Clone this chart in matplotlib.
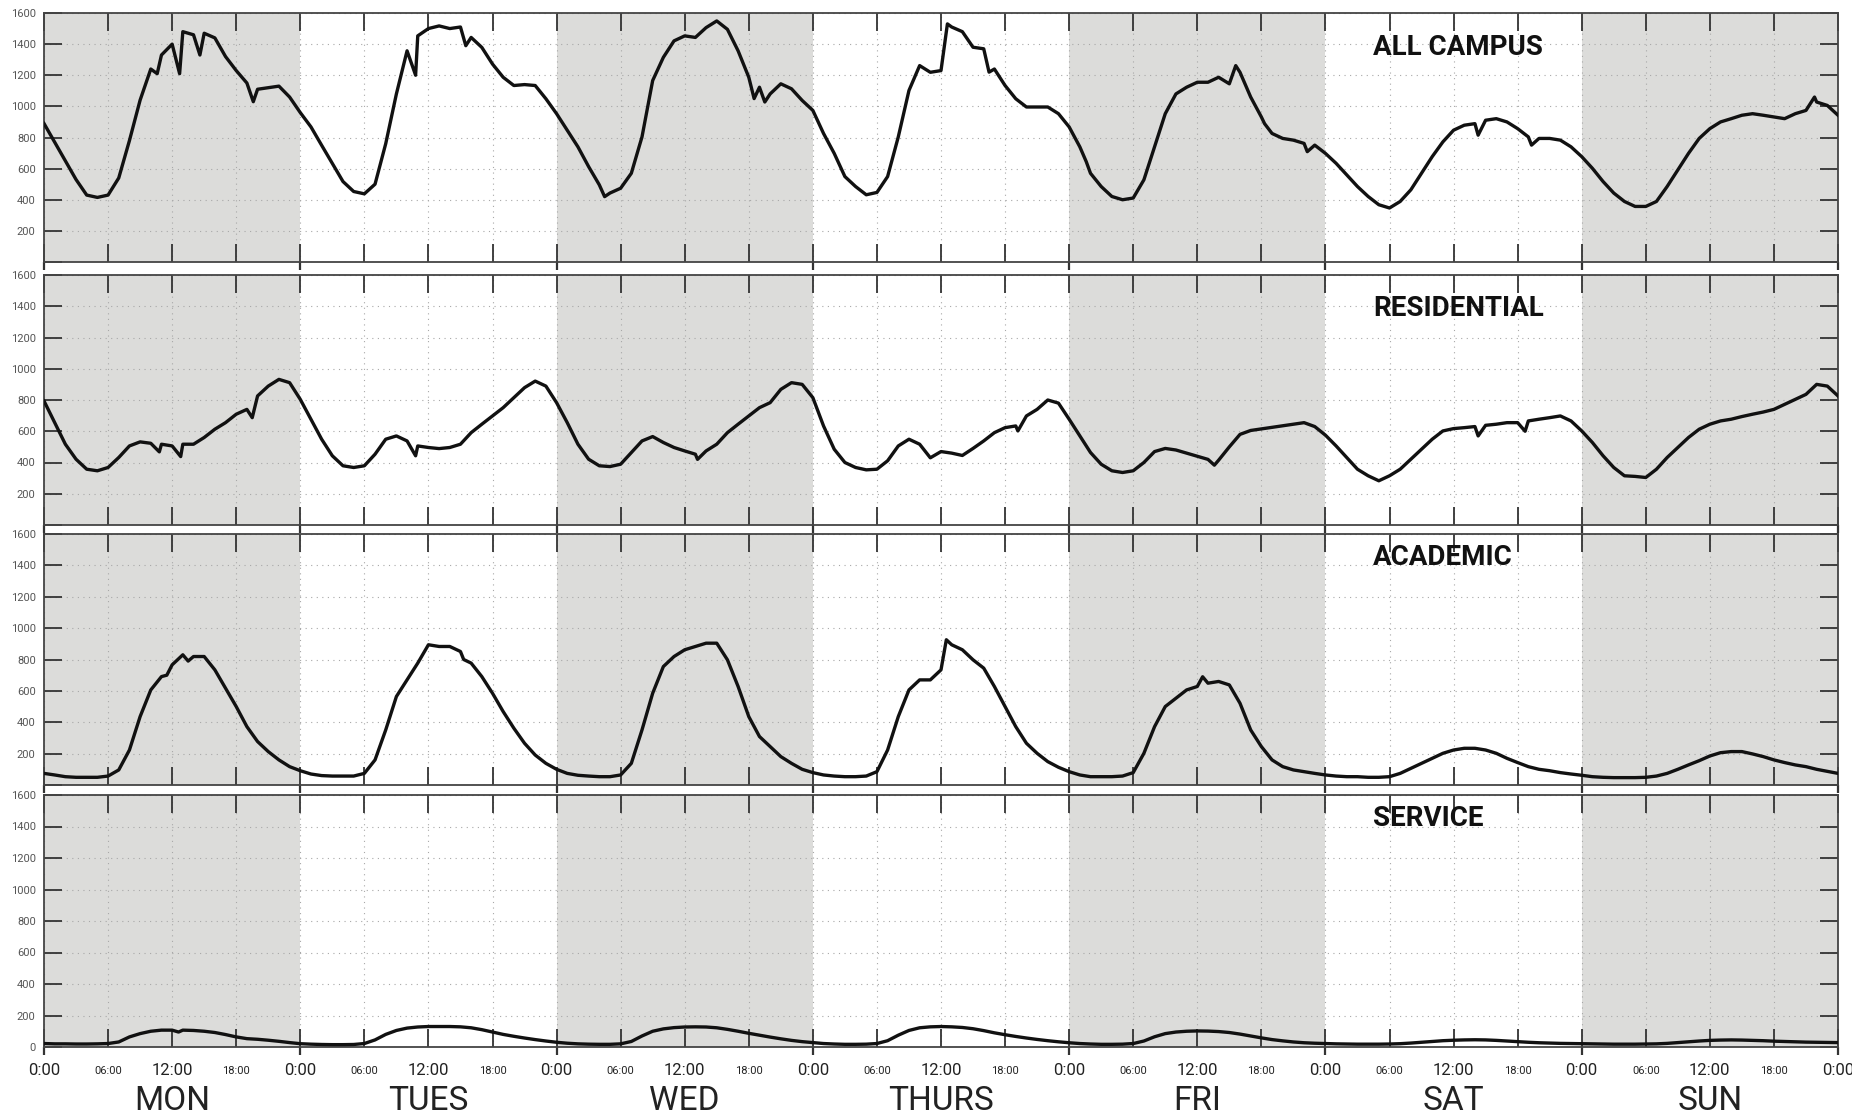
import numpy as np
import matplotlib
matplotlib.use("Agg")
from matplotlib import pyplot as plt
from matplotlib import transforms

plt.rcParams['font.family'] = ['Roboto', 'DejaVu Sans']

DAYS = ["MON", "TUES", "WED", "THURS", "FRI", "SAT", "SUN"]
SHADED_DAYS = [0, 2, 4, 6]
PANELS = ["ALL CAMPUS", "RESIDENTIAL", "ACADEMIC", "SERVICE"]
TIME_LABELS = ["0:00", "06:00", "12:00", "18:00"]

# hourly readings, hour 0 (Mon 0:00) .. hour 168 (next Mon 0:00)
all_campus = [
    890, 770, 650, 530, 430, 415, 430, 540, 780, 1040, 1240, 1330, 1400, 1480, 1460, 1470, 1440, 1320, 1230, 1150, 1110, 1120, 1130, 1060, 960,
    868, 750, 634, 517, 453, 438, 500, 760, 1080, 1357, 1453, 1500, 1517, 1500, 1510, 1443, 1379, 1272, 1187, 1134, 1140, 1134, 1049, 953,
    847, 740, 613, 496, 443, 474, 570, 804, 1166, 1315, 1421, 1453, 1443, 1506, 1549, 1495, 1357, 1187, 1123, 1080, 1145, 1113, 1038, 974,
    826, 698, 549, 485, 432, 447, 549, 804, 1102, 1262, 1219, 1230, 1510, 1480, 1380, 1370, 1240, 1134, 1049, 996, 996, 996, 953, 868,
    740, 570, 485, 421, 400, 411, 528, 740, 953, 1080, 1123, 1155, 1155, 1187, 1145, 1219, 1060, 932, 826, 794, 783, 762, 751, 698,
    634, 560, 485, 421, 368, 347, 389, 464, 570, 677, 772, 847, 879, 889, 911, 921, 900, 857, 804, 794, 794, 783, 740, 677,
    602, 517, 443, 389, 357, 357, 389, 485, 591, 698, 794, 857, 900, 921, 943, 953, 943, 932, 921, 953, 974, 1028, 1006, 943,
]
all_spike_t = [10.6, 12.7, 14.6, 19.6, 34.8, 39.5, 52.5, 66.5, 67.5, 84.6, 88.5, 97.6, 111.6, 114.3, 118.3, 134.3, 139.3, 165.8]
all_spike_v = [1210, 1210, 1330, 1030, 1200, 1390, 420, 1050, 1028, 1530, 1220, 645, 1262, 889, 709, 815, 751, 1060]

residential = [
    794, 655, 517, 421, 357, 347, 368, 432, 506, 532, 523, 517, 506, 517, 517, 560, 613, 655, 709, 740, 826, 889, 932, 911, 804,
    677, 549, 443, 379, 368, 379, 453, 549, 570, 538, 506, 496, 489, 496, 517, 591, 645, 698, 751, 815, 879, 921, 889, 783,
    655, 517, 421, 379, 374, 389, 464, 538, 566, 528, 496, 474, 453, 474, 517, 591, 645, 698, 751, 783, 868, 911, 900, 815,
    634, 485, 400, 368, 353, 357, 411, 506, 549, 517, 430, 470, 460, 445, 490, 538, 591, 623, 634, 698, 740, 800, 780, 677,
    570, 464, 389, 347, 336, 347, 400, 470, 490, 480, 460, 440, 420, 415, 500, 580, 605, 615, 625, 635, 645, 655, 630, 575,
    506, 432, 357, 315, 283, 315, 357, 421, 485, 549, 602, 617, 623, 630, 638, 645, 655, 655, 666, 677, 687, 698, 666, 602,
    528, 443, 368, 315, 311, 304, 357, 432, 496, 560, 613, 645, 666, 677, 694, 709, 723, 740, 772, 804, 836, 900, 889, 826,
]
res_spike_t = [10.8, 12.8, 19.5, 34.8, 61.2, 91.2, 109.6, 134.3, 138.7]
res_spike_v = [468, 438, 687, 443, 420, 602, 383, 570, 600]

academic = [
    74, 64, 53, 49, 49, 49, 57, 96, 223, 436, 606, 691, 766, 830, 819, 819, 734, 617, 500, 372, 277, 213, 160, 117, 91,
    70, 60, 57, 57, 57, 74, 160, 351, 564, 670, 777, 894, 883, 883, 851, 777, 691, 585, 468, 362, 266, 191, 138, 100,
    74, 62, 57, 53, 53, 64, 138, 351, 585, 755, 819, 862, 883, 904, 904, 798, 628, 436, 309, 245, 181, 138, 100, 79,
    64, 57, 53, 53, 57, 85, 223, 436, 606, 670, 670, 734, 894, 862, 798, 745, 628, 500, 372, 266, 202, 149, 113, 85,
    64, 53, 53, 53, 57, 79, 202, 372, 500, 553, 606, 628, 649, 660, 638, 521, 351, 245, 160, 117, 96, 85, 74, 64,
    57, 53, 53, 49, 49, 53, 74, 106, 138, 170, 202, 223, 234, 234, 223, 202, 170, 143, 117, 100, 91, 79, 70, 62,
    53, 49, 47, 47, 47, 49, 57, 74, 100, 128, 155, 185, 206, 213, 213, 198, 181, 160, 143, 128, 117, 100, 87, 74,
]
acad_spike_t = [11.5, 13.5, 39.3, 84.5, 108.5]
acad_spike_v = [700, 790, 800, 926, 690]

service = [
    22, 20, 20, 19, 19, 20, 22, 32, 64, 85, 100, 107, 107, 107, 105, 100, 92, 79, 64, 53, 49, 43, 36, 28, 21,
    18, 16, 15, 15, 16, 22, 45, 80, 105, 120, 127, 130, 130, 130, 128, 122, 110, 95, 80, 68, 57, 47, 38, 30,
    24, 20, 18, 17, 17, 20, 35, 70, 100, 115, 123, 127, 128, 127, 122, 112, 100, 87, 75, 63, 52, 42, 34, 28,
    22, 19, 17, 17, 18, 22, 40, 75, 105, 122, 128, 130, 128, 124, 116, 104, 90, 78, 67, 57, 48, 40, 33, 27,
    22, 19, 17, 17, 18, 22, 38, 65, 85, 95, 100, 102, 101, 98, 92, 82, 70, 58, 47, 39, 32, 27, 24, 22,
    20, 19, 18, 18, 18, 19, 21, 25, 30, 35, 40, 43, 45, 46, 45, 42, 38, 34, 30, 27, 25, 23, 22, 21,
    20, 19, 18, 18, 18, 19, 20, 23, 28, 33, 38, 42, 44, 45, 44, 42, 40, 37, 35, 33, 31, 30, 29, 28,
]
serv_spike_t = [12.6]
serv_spike_v = [95]


def merge(values, spike_t, spike_v):
    t = np.concatenate([np.arange(len(values), dtype=float), spike_t])
    v = np.concatenate([np.array(values, dtype=float), spike_v])
    order = np.argsort(t)
    return t[order], v[order]


def style_axis(ax, show_zero):
    ax.set_xlim(0, 168)
    ax.set_ylim(0, 1600)
    for d in SHADED_DAYS:
        ax.axvspan(24 * d, 24 * d + 24, color="#dcdcda", lw=0, zorder=0)
    ax.set_xticks(range(0, 169, 6))
    ax.set_yticks(range(0, 1601, 200))
    ylabels = [str(v) for v in range(0, 1601, 200)]
    if not show_zero:
        ylabels[0] = ""
    ax.set_yticklabels(ylabels)
    ax.grid(True, linestyle=(0, (1, 4)), color="#a8a8a8", lw=0.8)
    ax.set_axisbelow(True)
    ax.tick_params(axis="both", which="major", direction="in", length=13, width=1.3,
                   color="#333333", top=True, right=True, labelbottom=False,
                   labelsize=8, labelcolor="#555555", pad=6)
    ax.xaxis.remove_overlapping_locs = False
    ax.set_xticks(range(0, 169, 24), minor=True)
    ax.tick_params(axis="x", which="minor", direction="out", length=6, width=1.6,
                   color="#333333", top=False)
    for s in ax.spines.values():
        s.set_color("#444444")
        s.set_linewidth(1.3)


series = [
    merge(all_campus, all_spike_t, all_spike_v),
    merge(residential, res_spike_t, res_spike_v),
    merge(academic, acad_spike_t, acad_spike_v),
    merge(service, serv_spike_t, serv_spike_v),
]

fig = plt.figure(figsize=(18.52, 11.19), dpi=100)
W, H = 1852, 1119
left, right = 44, 1838
boxes = [(13, 262), (275, 525), (534, 785), (795, 1047)]
title_y = [0.863, 0.868, 0.906, 0.905]

axes = []
for i, (top, bottom) in enumerate(boxes):
    ax = fig.add_axes([left / W, 1 - bottom / H, (right - left) / W, (bottom - top) / H])
    style_axis(ax, show_zero=(i == 3))
    t, v = series[i]
    ax.plot(t, v, color="#111111", lw=2.4, zorder=3)
    ax.text(0.7408, title_y[i], PANELS[i], transform=ax.transAxes, fontsize=20,
            fontweight="bold", va="center", ha="left", color="#111111", zorder=4)
    axes.append(ax)

ax = axes[-1]
trans = transforms.blended_transform_factory(ax.transData, ax.transAxes)
for d in range(8):
    for k, lab in enumerate(TIME_LABELS):
        h = 24 * d + 6 * k
        if h > 168:
            break
        size = 12 if k % 2 == 0 else 8
        ax.text(h, -0.095, lab, transform=trans, fontsize=size, ha="center",
                va="center", color="#222222", clip_on=False)
for d, name in enumerate(DAYS):
    ax.text(24 * d + 12, -0.215, name, transform=trans, fontsize=24,
            ha="center", va="center", color="#222222", clip_on=False)

fig.savefig("out.png", dpi=100)
